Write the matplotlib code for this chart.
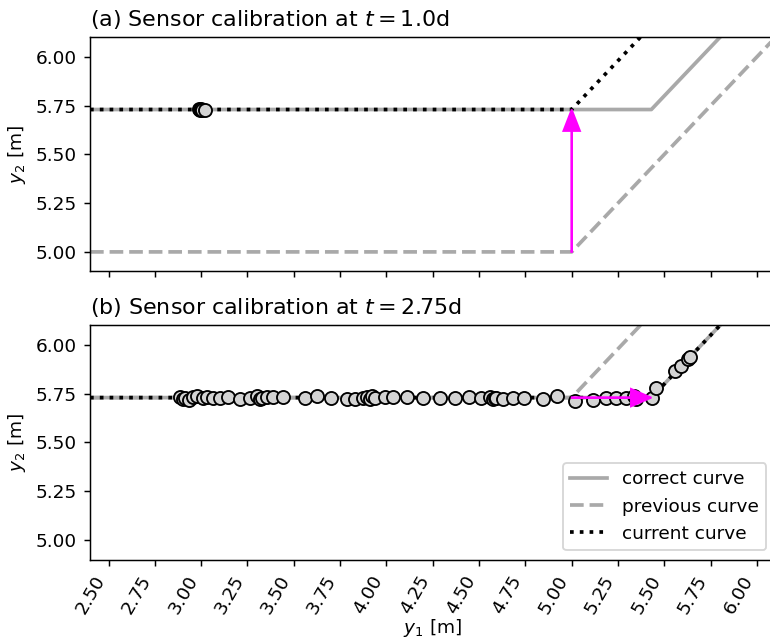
import numpy as np
import matplotlib
matplotlib.use("Agg")
import matplotlib.pyplot as plt

# curve shapes (y1 grid for lines)
y1_grid = [2.4, 5.0, 5.43, 6.1]
correct_y2 = [5.73, 5.73, 5.73, 6.40]
prev_a_y2 = [5.0, 5.0, 5.43, 6.1]
curr_a_y2 = [5.73, 5.73, 6.16, 6.83]
prev_b_y2 = [5.73, 5.73, 6.16, 6.83]
curr_b_y2 = [5.73, 5.73, 5.73, 6.40]

# measurements at t = 1.0d
meas_a_y1 = [2.990, 2.995, 3.000, 3.005, 3.020]
meas_a_y2 = [5.735, 5.728, 5.733, 5.725, 5.727]

# measurements at t = 2.75d
meas_b_y1 = [2.886, 2.900, 2.913, 2.935, 2.956, 2.975, 3.010, 3.030, 3.064, 3.100,
             3.145, 3.209, 3.263, 3.300, 3.317, 3.330, 3.355, 3.387, 3.441, 3.560,
             3.625, 3.700, 3.786, 3.829, 3.873, 3.894, 3.910, 3.921, 3.937, 3.991,
             4.035, 4.110, 4.196, 4.288, 4.369, 4.446, 4.508, 4.561, 4.576, 4.585,
             4.594, 4.629, 4.683, 4.743, 4.845, 4.923, 5.020, 5.115, 5.187, 5.241,
             5.295, 5.334, 5.349, 5.435, 5.457, 5.556, 5.592, 5.627, 5.640]
meas_b_y2 = [5.735, 5.725, 5.730, 5.720, 5.732, 5.738, 5.728, 5.735, 5.730, 5.727,
             5.732, 5.725, 5.729, 5.738, 5.722, 5.730, 5.735, 5.731, 5.733, 5.726,
             5.738, 5.730, 5.722, 5.724, 5.728, 5.735, 5.724, 5.738, 5.727, 5.733,
             5.734, 5.731, 5.729, 5.726, 5.727, 5.733, 5.729, 5.734, 5.724, 5.728,
             5.726, 5.725, 5.728, 5.726, 5.722, 5.738, 5.712, 5.720, 5.726, 5.727,
             5.729, 5.738, 5.725, 5.728, 5.780, 5.867, 5.892, 5.928, 5.940]

gray = "darkgray"
dpi = 133

fig, axes = plt.subplots(2, 1, figsize=(770 / dpi, 644 / dpi), dpi=dpi, sharex=True)
fig.subplots_adjust(left=0.1169, right=1.0071, top=0.942, bottom=0.1312, hspace=0.231)

panels = [
    ("(a) Sensor calibration at $t = 1.0$d", prev_a_y2, curr_a_y2, meas_a_y1, meas_a_y2,
     (5.0, 5.0, 0.0, 0.73)),
    ("(b) Sensor calibration at $t = 2.75$d", prev_b_y2, curr_b_y2, meas_b_y1, meas_b_y2,
     (5.0, 5.73, 0.43, 0.0)),
]

for ax, (title, prev, curr, mx, my, arr) in zip(axes, panels):
    ax.plot(y1_grid, correct_y2, color=gray, lw=2, label="correct curve")
    ax.plot(y1_grid, prev, color=gray, lw=2, ls="--", label="previous curve")
    ax.plot(y1_grid, curr, color="k", lw=2, ls=":", label="current curve")
    ax.scatter(mx, my, s=50, facecolor="lightgray", edgecolors="k", linewidths=1, zorder=3)
    ax.arrow(arr[0], arr[1], arr[2], arr[3], width=0.004, head_width=0.09, head_length=0.11,
             length_includes_head=True, color="magenta", zorder=4)
    ax.set_title(title, loc="left")
    ax.set_ylabel("$y_2$ [m]")
    ax.set_ylim(4.9, 6.1)
    ax.set_yticks([5.0, 5.25, 5.5, 5.75, 6.0])

axes[1].set_xlim(2.4, 6.1)
axes[1].set_xticks(np.arange(2.5, 6.01, 0.25))
axes[1].set_xlabel("$y_1$ [m]", labelpad=0)
plt.setp(axes[1].get_xticklabels(), rotation=60, ha="right")
axes[1].legend(loc="lower right")

fig.savefig("out.png", dpi=dpi)
